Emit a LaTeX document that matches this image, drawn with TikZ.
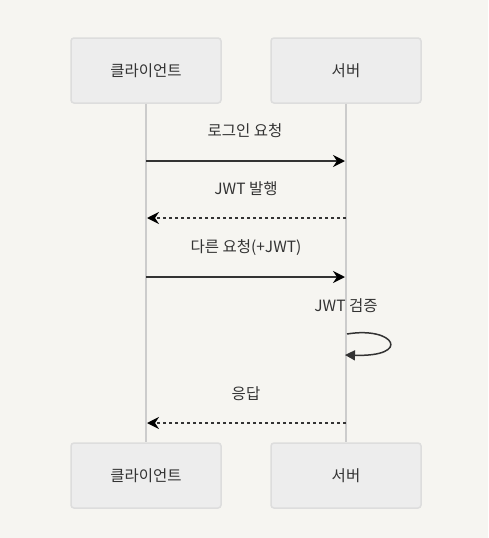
\documentclass[tikz,border=0pt]{standalone}
\usepackage{fontspec}
\setmainfont{Noto Sans CJK KR}
\usetikzlibrary{arrows.meta}
\definecolor{bg}{HTML}{F6F5F1}
\definecolor{boxfill}{HTML}{EDEDED}
\definecolor{boxline}{HTML}{DDDDDD}
\definecolor{life}{HTML}{CCCCCC}
\definecolor{ink}{HTML}{333333}
\begin{document}
\begin{tikzpicture}[x=1pt,y=-1pt,
  actor/.style={draw=boxline,line width=1.5pt,fill=boxfill,rounded corners=3pt,
    minimum width=150pt,minimum height=65pt,inner sep=0pt,font=\fontsize{15.5}{17}\selectfont,text=ink},
  lifeline/.style={draw=life,line width=2pt},
  msg/.style={draw=ink,line width=2pt,-{Stealth[length=12pt,width=12pt,inset=4pt,color=black]}},
  reply/.style={msg,dash pattern=on 3pt off 3pt},
  lbl/.style={font=\fontsize{15.5}{17}\selectfont,text=ink,inner sep=0pt}]
\fill[bg] (0,0) rectangle (488,538);
\useasboundingbox (0,0) rectangle (488,538);
\node[actor] (c1) at (146,70.5) {클라이언트};
\node[actor] (s1) at (346,70.5) {서버};
\node[actor] (c2) at (146,475.5) {클라이언트};
\node[actor] (s2) at (346,475.5) {서버};
\draw[lifeline] (c1.south) -- (c2.north);
\draw[lifeline] (s1.south) -- (s2.north);
\coordinate (a1) at (146,161); \coordinate (b1) at (345,161);
\coordinate (a2) at (147,218); \coordinate (b2) at (346,218);
\coordinate (a3) at (146,277); \coordinate (b3) at (345,277);
\coordinate (a5) at (147,423); \coordinate (b5) at (346,423);
\coordinate (l1) at (347,334); \coordinate (l2) at (345,355);
\node[lbl] (t1) at (245,131) {로그인 요청};
\node[lbl] (t2) at (246,189) {JWT 발행};
\node[lbl] (t3) at (246,248) {다른 요청(+JWT)};
\node[lbl] (t4) at (346,306) {JWT 검증};
\node[lbl] (t5) at (246,394) {응답};
\draw[msg] (a1) -- (b1);
\draw[reply] (b2) -- (a2);
\draw[msg] (a3) -- (b3);
\draw[draw=ink,line width=1.5pt,-{Triangle[length=10pt,width=10pt]}] (l1) .. controls (395,326) and (412,357) .. (l2);
\draw[reply] (b5) -- (a5);
\end{tikzpicture}
\end{document}
